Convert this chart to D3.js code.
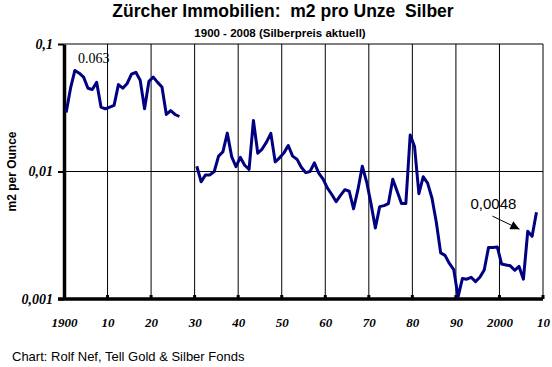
<!DOCTYPE html>
<html>
<head>
<meta charset="utf-8">
<script src="https://cdn.jsdelivr.net/npm/d3@7"></script>
<style>
  body { margin: 0; background: #fff; }
  svg { display: block; }
</style>
</head>
<body>
<div id="chart"></div>
<script>
// m2 per ounce of silver, annual values
const years1 = d3.range(1900, 1927);
const values1 = [
  0.029, 0.045, 0.062, 0.059, 0.055, 0.045, 0.044, 0.050, 0.032, 0.031,
  0.032, 0.033, 0.048, 0.045, 0.049, 0.058, 0.060, 0.052, 0.031, 0.051,
  0.055, 0.050, 0.046, 0.028, 0.030, 0.028, 0.027
];
const years2 = d3.range(1930, 2009);
const values2 = [
  0.0110, 0.0083, 0.0094, 0.0094, 0.0100, 0.0132, 0.0143, 0.0200, 0.0131, 0.0109,
  0.0129, 0.0112, 0.0104, 0.0251, 0.0139, 0.0150, 0.0170, 0.0199, 0.0119, 0.0128,
  0.0140, 0.0160, 0.0132, 0.0125, 0.0108, 0.0098, 0.0100, 0.0117, 0.0097, 0.0087,
  0.0074, 0.0066, 0.0058, 0.0065, 0.0072, 0.0070, 0.0051, 0.0072, 0.0110, 0.0083,
  0.0056, 0.0036, 0.0053, 0.0054, 0.0056, 0.0087, 0.0070, 0.0056, 0.0056, 0.0193,
  0.0157, 0.0067, 0.0091, 0.0081, 0.0062, 0.0040, 0.0023, 0.0022, 0.0019, 0.0017,
  0.00104, 0.00145, 0.00143, 0.00148, 0.00137, 0.00148, 0.00169, 0.00254, 0.00254, 0.00256,
  0.00188, 0.00185, 0.00182, 0.00168, 0.00180, 0.00143, 0.0034, 0.0031, 0.0048
];

const xTickValues = d3.range(1900, 2011, 10);
const xTickLabels = ["1900", "10", "20", "30", "40", "50", "60", "70", "80", "90", "2000", "10"];
const yTickValues = [0.001, 0.01, 0.1];
const yTickLabels = ["0,001", "0,01", "0,1"];

const width = 552, height = 367;
const margin = { top: 44, right: 9, bottom: 68, left: 64 };
const plotW = width - margin.left - margin.right;
const plotH = height - margin.top - margin.bottom;

const svg = d3.select("#chart").append("svg")
  .attr("width", width)
  .attr("height", height);

const x = d3.scaleLinear().domain([1900, 2010]).range([margin.left, margin.left + plotW]);
const y = d3.scaleLog().domain([0.001, 0.1]).range([margin.top + plotH, margin.top]);

// title
svg.append("text")
  .attr("x", 283).attr("y", 17)
  .attr("text-anchor", "middle")
  .attr("font-family", "Liberation Sans, Arial, sans-serif")
  .attr("font-weight", "bold")
  .attr("font-size", 17.5)
  .style("white-space", "pre")
  .text("Zürcher Immobilien:  m2 pro Unze  Silber");

svg.append("text")
  .attr("x", 280).attr("y", 37)
  .attr("text-anchor", "middle")
  .attr("font-family", "Liberation Sans, Arial, sans-serif")
  .attr("font-weight", "bold")
  .attr("font-size", 11.5)
  .text("1900 - 2008 (Silberpreis aktuell)");

// vertical gridlines
svg.append("g")
  .selectAll("line")
  .data(xTickValues.slice(1))
  .enter().append("line")
  .attr("x1", d => x(d)).attr("x2", d => x(d))
  .attr("y1", y(0.1)).attr("y2", y(0.001))
  .attr("stroke", "#000")
  .attr("stroke-width", 1);

// horizontal gridlines
svg.append("g")
  .selectAll("line")
  .data([0.01, 0.1])
  .enter().append("line")
  .attr("x1", x(1900)).attr("x2", x(2010))
  .attr("y1", d => y(d)).attr("y2", d => y(d))
  .attr("stroke", "#000")
  .attr("stroke-width", 1);

// x axis
const xAxis = d3.axisBottom(x)
  .tickValues(xTickValues)
  .tickSize(0)
  .tickPadding(19)
  .tickFormat((d, i) => xTickLabels[i]);

const gx = svg.append("g")
  .attr("transform", `translate(0, ${y(0.001)})`)
  .call(xAxis);
gx.select(".domain").attr("stroke-width", 3.5).attr("d", `M${x(1900) - 6},0H${x(2010)}`);
gx.selectAll("text")
  .attr("font-family", "Liberation Serif, Times New Roman, serif")
  .attr("font-weight", "bold")
  .attr("font-style", "italic")
  .attr("font-size", 13)
  .attr("fill", "#000");

// small inward tick marks on the x axis
svg.append("g")
  .selectAll("rect")
  .data(xTickValues.slice(1))
  .enter().append("rect")
  .attr("x", d => x(d) - 1.5)
  .attr("y", y(0.001) - 4)
  .attr("width", 3)
  .attr("height", 4)
  .attr("fill", "#000");

// y axis
const yAxis = d3.axisLeft(y)
  .tickValues(yTickValues)
  .tickSizeInner(6)
  .tickSizeOuter(0)
  .tickPadding(5)
  .tickFormat((d, i) => yTickLabels[i]);

const gy = svg.append("g")
  .attr("transform", `translate(${x(1900)}, 0)`)
  .call(yAxis);
gy.select(".domain").attr("stroke-width", 3.5);
gy.selectAll(".tick line").attr("stroke-width", 2);
gy.selectAll("text")
  .attr("font-family", "Liberation Serif, Times New Roman, serif")
  .attr("font-weight", "bold")
  .attr("font-style", "italic")
  .attr("font-size", 14)
  .attr("fill", "#000");

svg.append("text")
  .attr("transform", `translate(16, ${y(0.01)}) rotate(-90)`)
  .attr("text-anchor", "middle")
  .attr("font-family", "Liberation Sans, Arial, sans-serif")
  .attr("font-weight", "bold")
  .attr("font-size", 12)
  .text("m2 per Ounce");

// data lines (points sit in the middle of each year)
const line = d3.line()
  .x(d => x(d[0] + 0.5))
  .y(d => y(d[1]));

[d3.zip(years1, values1), d3.zip(years2, values2)].forEach(seg => {
  svg.append("path")
    .datum(seg)
    .attr("fill", "none")
    .attr("stroke", "#000080")
    .attr("stroke-width", 3)
    .attr("stroke-linejoin", "round")
    .attr("d", line);
});

// annotations
const peakX = x(1902.5), peakY = y(0.062);
svg.append("text")
  .attr("x", peakX + 3).attr("y", peakY - 7)
  .attr("font-family", "Liberation Serif, Times New Roman, serif")
  .attr("font-size", 14)
  .text("0.063");

const lastX = x(2008.5), lastY = y(0.0048);
svg.append("text")
  .attr("x", lastX - 66).attr("y", lastY - 3)
  .attr("font-family", "Liberation Sans, Arial, sans-serif")
  .attr("font-size", 15)
  .text("0,0048");

const defs = svg.append("defs");
defs.append("marker")
  .attr("id", "arrow")
  .attr("viewBox", "0 0 10 10")
  .attr("refX", 10).attr("refY", 5)
  .attr("markerWidth", 10).attr("markerHeight", 9)
  .attr("markerUnits", "userSpaceOnUse")
  .attr("orient", "auto")
  .append("path")
  .attr("d", "M0,0L10,5L0,10Z")
  .attr("fill", "#000");

svg.append("line")
  .attr("x1", lastX - 44).attr("y1", lastY + 4)
  .attr("x2", lastX - 17).attr("y2", lastY + 17)
  .attr("stroke", "#000")
  .attr("stroke-width", 1)
  .attr("marker-end", "url(#arrow)");

// footer
svg.append("text")
  .attr("x", 12).attr("y", 361)
  .attr("font-family", "Liberation Sans, Arial, sans-serif")
  .attr("font-size", 13)
  .text("Chart: Rolf Nef, Tell Gold & Silber Fonds");
</script>
</body>
</html>
